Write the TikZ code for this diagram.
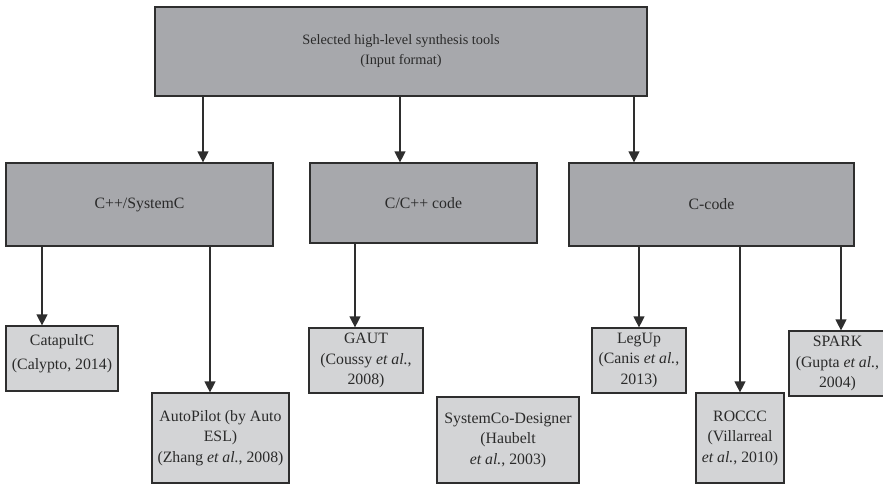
\documentclass[tikz,border=0pt]{standalone}
\usepackage{fontspec}
\setmainfont{Liberation Serif}
\usetikzlibrary{arrows.meta}
\definecolor{midgray}{HTML}{A7A8AC}
\definecolor{lightgray}{HTML}{D3D4D6}
\definecolor{edgegray}{HTML}{2E2E2E}
\definecolor{inkgray}{HTML}{2A2A2A}
\tikzset{
  boxtext/.style={inner sep=0pt, align=center, text=inkgray,
    font=\fontsize{15.8}{20.5}\selectfont},
  box/.style={boxtext, draw=edgegray, line width=1.2pt},
  headbox/.style={box, fill=midgray},
  leafbox/.style={box, fill=lightgray},
  arr/.style={draw=edgegray, line width=1.2pt,
    -{Triangle[width=11pt,length=11pt]}},
}
\begin{document}
\begin{tikzpicture}[x=1pt,y=-1pt]
\useasboundingbox (0,0) rectangle (883,484);
\clip (0,0) rectangle (883,484);

% root
\node[headbox, minimum width=492pt, minimum height=89pt,
  font=\fontsize{14.3}{20}\selectfont] (root) at (401,51.5)
  {Selected high-level synthesis tools\\(Input format)};

% input formats
\node[headbox, minimum width=267pt, minimum height=83pt] (cpp) at (139.5,204.5) {C++/SystemC};
\node[headbox, minimum width=227pt, minimum height=80pt] (ccpp) at (423.5,203) {C/C++ code};
\node[headbox, minimum width=285pt, minimum height=83pt] (cc) at (711.5,204.5) {C-code};

% tools
\node[leafbox, minimum width=112pt, minimum height=65pt] (catapult) at (62,358.5) {};
\node[boxtext, anchor=north] (catapult-text) at ([yshift=-9pt]catapult.north)
  {CatapultC\\[3pt](Calypto, 2014)};
\node[leafbox, minimum width=137pt, minimum height=90pt] (autopilot) at (220.5,438)
  {AutoPilot (by Auto\\ESL)\\(Zhang \textit{et al.}, 2008)};
\node[leafbox, minimum width=114pt, minimum height=65pt] (gaut) at (366,360.5)
  {GAUT\\(Coussy \textit{et al.},\\2008)};
\node[leafbox, minimum width=142pt, minimum height=86pt] (sysco) at (508,440)
  {SystemCo-Designer\\(Haubelt\\\textit{et al.}, 2003)};
\node[leafbox, minimum width=94pt, minimum height=65pt] (legup) at (639,360.5)
  {LegUp\\(Canis \textit{et al.},\\2013)};
\node[leafbox, minimum width=88pt, minimum height=90pt] (roccc) at (740,438)
  {ROCCC\\(Villarreal\\\textit{et al.}, 2010)};
\node[leafbox, minimum width=97pt, minimum height=65pt] (spark) at (837.5,363.5)
  {SPARK\\(Gupta \textit{et al.},\\2004)};

% connector columns
\coordinate (k1) at (203,0);
\coordinate (k2) at (400,0);
\coordinate (k3) at (634,0);
\coordinate (k4) at (42,0);
\coordinate (k5) at (210,0);
\coordinate (k6) at (355,0);
\coordinate (k7) at (639,0);
\coordinate (k8) at (740,0);
\coordinate (k9) at (841,0);

\draw[arr] (root.south -| k1) -- (cpp.north -| k1);
\draw[arr] (root.south -| k2) -- (ccpp.north -| k2);
\draw[arr] (root.south -| k3) -- (cc.north -| k3);

\draw[arr] (cpp.south -| k4) -- (catapult.north -| k4);
\draw[arr] (cpp.south -| k5) -- (autopilot.north -| k5);
\draw[arr] (ccpp.south -| k6) -- (gaut.north -| k6);
\draw[arr] (cc.south -| k7) -- (legup.north -| k7);
\draw[arr] (cc.south -| k8) -- (roccc.north -| k8);
\draw[arr] (cc.south -| k9) -- (spark.north -| k9);
\end{tikzpicture}
\end{document}
